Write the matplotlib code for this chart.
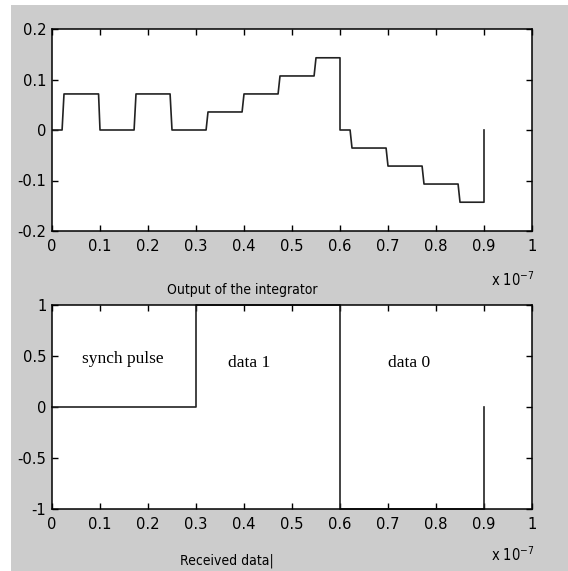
import matplotlib
matplotlib.use("Agg")
import matplotlib.pyplot as plt
from matplotlib.patches import Rectangle

# time axis in units of 1e-7 s
int_t = [0, 0.021, 0.025, 0.097, 0.1, 0.171, 0.175, 0.246, 0.25, 0.321, 0.325,
         0.396, 0.4, 0.471, 0.475, 0.546, 0.55, 0.6, 0.6, 0.621, 0.625, 0.696,
         0.7, 0.771, 0.775, 0.846, 0.85, 0.9, 0.9]
int_v = [0, 0, 0.0714, 0.0714, 0, 0, 0.0714, 0.0714, 0, 0, 0.0357,
         0.0357, 0.0714, 0.0714, 0.107, 0.107, 0.143, 0.143, 0, 0, -0.0357, -0.0357,
         -0.0714, -0.0714, -0.107, -0.107, -0.143, -0.143, 0]

rx_t = [0, 0.3, 0.3, 0.6, 0.6, 0.9, 0.9]
rx_v = [0, 0, 1, 1, -1, -1, 0]

x_ticks = [0, 0.1, 0.2, 0.3, 0.4, 0.5, 0.6, 0.7, 0.8, 0.9, 1]
x_labels = ["0", "0.1", "0.2", "0.3", "0.4", "0.5", "0.6", "0.7", "0.8", "0.9", "1"]
y1_ticks = [-0.2, -0.1, 0, 0.1, 0.2]
y1_labels = ["-0.2", "-0.1", "0", "0.1", "0.2"]
y2_ticks = [-1, -0.5, 0, 0.5, 1]
y2_labels = ["-1", "-0.5", "0", "0.5", "1"]

plt.rcParams["font.family"] = ["DejaVu Sans"]
plt.rcParams["font.stretch"] = "condensed"
plt.rcParams["axes.unicode_minus"] = False

fig = plt.figure(figsize=(5.68, 5.71), dpi=100)
fig.patch.set_facecolor("white")
fig.add_artist(Rectangle((11 / 568, 0), 1, 1 - 5 / 571, transform=fig.transFigure,
                         facecolor="#cccccc", edgecolor="none", zorder=-10))

ax1 = fig.add_axes([52 / 568, 1 - 231 / 571, 480 / 568, 202 / 571])
ax2 = fig.add_axes([52 / 568, 1 - 509 / 571, 480 / 568, 204 / 571])


def style(ax, yt, yl):
    ax.set_facecolor("white")
    ax.set_xlim(0, 1)
    ax.set_xticks(x_ticks)
    ax.set_xticklabels(x_labels)
    ax.set_yticks(yt)
    ax.set_yticklabels(yl)
    ax.set_ylim(yt[0], yt[-1])
    ax.tick_params(direction="in", top=True, right=True, length=4, width=1,
                   labelsize=11.8, colors="black", pad=4)
    ax.tick_params(axis="x", pad=6)
    for s in ax.spines.values():
        s.set_linewidth(1.1)
        s.set_color("black")


ax1.plot(int_t, int_v, color="#222222", linewidth=1.2)
style(ax1, y1_ticks, y1_labels)

ax2.plot(rx_t, rx_v, color="#222222", linewidth=1.2, clip_on=False)
style(ax2, y2_ticks, y2_labels)

serif = ["Liberation Serif", "DejaVu Serif"]
ax2.text(0.148, 0.47, "synch pulse", family=serif, stretch="normal", fontsize=12.5,
         ha="center", va="center")
ax2.text(0.41, 0.43, "data 1", family=serif, stretch="normal", fontsize=12.5,
         ha="center", va="center")
ax2.text(0.744, 0.43, "data 0", family=serif, stretch="normal", fontsize=12.5,
         ha="center", va="center")

fig.text(242 / 568, 1 - 290 / 571, "Output of the integrator", fontsize=10,
         ha="center", va="center")
fig.text(227 / 568, 1 - 561 / 571, "Received data|", fontsize=10,
         ha="center", va="center")
fig.text(513 / 568, 1 - 280 / 571, r"x 10$^{\mathregular{-7}}$", fontsize=10.5,
         ha="center", va="center")
fig.text(513 / 568, 1 - 555 / 571, r"x 10$^{\mathregular{-7}}$", fontsize=10.5,
         ha="center", va="center")

fig.savefig("out.png", dpi=100)
